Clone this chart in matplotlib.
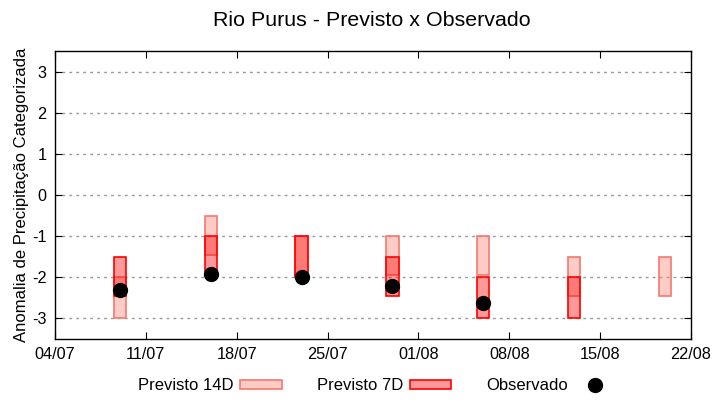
import matplotlib
matplotlib.use("Agg")
import matplotlib.pyplot as plt
import matplotlib.dates as mdates
from matplotlib.patches import Patch
from matplotlib.lines import Line2D
from datetime import datetime

plt.rcParams['font.family'] = ['Liberation Sans', 'DejaVu Sans']

dates = ["2024-07-09", "2024-07-16", "2024-07-23", "2024-07-30", "2024-08-06", "2024-08-13", "2024-08-20"]
p14_top = [-2.0, -0.5, -1.0, -1.0, -1.0, -1.5, -1.5]
p14_bot = [-3.0, -1.45, -2.0, -1.95, -1.95, -2.45, -2.45]
p7_top = [-1.5, -1.0, -1.0, -1.5, -2.0, -2.0, None]
p7_bot = [-2.45, -1.9, -2.0, -2.45, -3.0, -3.0, None]
obs_dates = ["2024-07-09", "2024-07-16", "2024-07-23", "2024-07-30", "2024-08-06"]
obs_vals = [-2.32, -1.91, -2.0, -2.22, -2.62]
xtick_labels = ["04/07", "11/07", "18/07", "25/07", "01/08", "08/08", "15/08", "22/08"]

fig = plt.figure(figsize=(7.2, 4.0), dpi=100)
ax = fig.add_axes([55/720, 1-339/400, (691-55)/720, (339-51)/400])

d = [mdates.date2num(datetime.strptime(s, "%Y-%m-%d")) for s in dates]
od = [mdates.date2num(datetime.strptime(s, "%Y-%m-%d")) for s in obs_dates]
w = 0.95

c14_face = (250/255, 128/255, 114/255, 0.4)
c14_edge = (245/255, 120/255, 110/255, 1.0)
c7_face = (1.0, 0.0, 0.0, 0.4)
c7_edge = (1.0, 0.0, 0.0, 1.0)

for x, t, b in zip(d, p14_top, p14_bot):
    ax.bar(x, t - b, bottom=b, width=w, color=c14_face, edgecolor=c14_edge, linewidth=1.2, zorder=3)
for x, t, b in zip(d, p7_top, p7_bot):
    if t is None:
        continue
    ax.bar(x, t - b, bottom=b, width=w, color=c7_face, edgecolor=c7_edge, linewidth=1.2, zorder=4)
ax.plot(od, obs_vals, 'o', color='black', markersize=10, linestyle='none', zorder=5)

start = mdates.date2num(datetime(2024, 7, 4))
end = mdates.date2num(datetime(2024, 8, 22))
ax.set_xlim(start, end)
ax.set_ylim(-3.5, 3.5)
ticks = [start + 7*i for i in range(len(xtick_labels))]
ax.set_xticks(ticks)
ax.set_xticklabels(xtick_labels)
ax.set_yticks([-3, -2, -1, 0, 1, 2, 3])
ax.set_yticklabels(["-3", "-2", "-1", "0", "1", "2", "3"])
ax.tick_params(direction='in', length=5, labelsize=11.7, top=True, right=True, pad=6, colors='black')
ax.grid(axis='y', linestyle=(0, (2, 3)), color='#999999', linewidth=1.0, zorder=0)
for s in ax.spines.values():
    s.set_linewidth(1.0)
ax.set_ylabel("Anomalia de Precipitação Categorizada", fontsize=12, labelpad=2)
fig.text(372/720, 1-20/400, "Rio Purus - Previsto x Observado", ha='center', va='center', fontsize=15.4)

handles = [
    Patch(facecolor=c14_face, edgecolor=c14_edge, linewidth=1.2),
    Patch(facecolor=c7_face, edgecolor=c7_edge, linewidth=1.2),
    Line2D([], [], marker='o', color='black', linestyle='none', markersize=10),
]
labels = ["Previsto 14D", "Previsto 7D", "Observado"]
fig.legend(handles, labels, loc='center', bbox_to_anchor=(377/720, 1-386/400), ncol=3,
           frameon=False, markerfirst=False, fontsize=12, handlelength=2.5, handleheight=0.4,
           columnspacing=2.1, handletextpad=0.4)

fig.savefig("out.png", dpi=100)
